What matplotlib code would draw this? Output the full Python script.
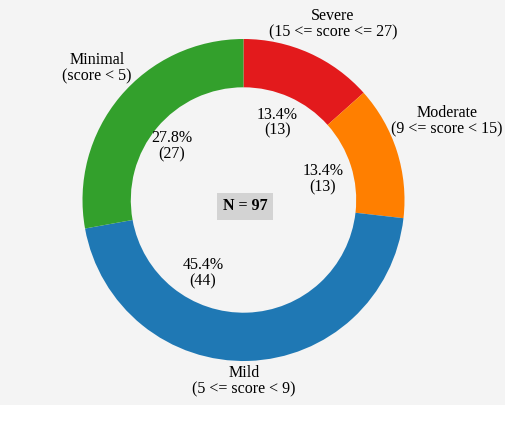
import matplotlib
matplotlib.use("Agg")
import matplotlib.pyplot as plt

# ---- data ----
categories = ["Severe", "Moderate", "Mild", "Minimal"]
ranges = ["(15 <= score <= 27)", "(9 <= score < 15)", "(5 <= score < 9)", "(score < 5)"]
counts = [13, 13, 44, 27]

# ---- style ----
colors = ["#e31a1c", "#ff7f00", "#1f78b4", "#33a02c"]
outer_label_pos = [(0.556, 1.093), (1.264, 0.491), (0.003, -1.124), (-0.910, 0.820)]
inner_label_pos = [(0.211, 0.481), (0.494, 0.130), (-0.252, -0.453), (-0.444, 0.335)]
bg = "#f4f4f4"

plt.rcParams["font.family"] = ["Liberation Serif", "DejaVu Serif"]

W, H = 518, 438
fig = plt.figure(figsize=(W / 100, H / 100), dpi=100, facecolor="white")

# gray panel area in pixels
px0, px1, py_top, py_bot = 0, 505, 0, 405
ax = fig.add_axes([px0 / W, 1 - py_bot / H, (px1 - px0) / W, (py_bot - py_top) / H])

cx, cy, R = 243.5, 200.0, 161.0

wedges, _ = ax.pie(counts, colors=colors, startangle=90, counterclock=False,
                   radius=1.0, wedgeprops=dict(width=0.3, edgecolor="none"))
ax.set_frame_on(True)
ax.set_facecolor(bg)
for s in ax.spines.values():
    s.set_visible(False)
ax.set_xticks([])
ax.set_yticks([])
ax.set_aspect("auto")
ax.set_xlim(-(cx - px0) / R, (px1 - cx) / R)
ax.set_ylim(-(py_bot - cy) / R, (cy - py_top) / R)

total = sum(counts)
fs = 11.5
for i, (cat, rng, n) in enumerate(zip(categories, ranges, counts)):
    ox, oy = outer_label_pos[i]
    ax.text(ox, oy, f"{cat}\n{rng}", ha="center", va="center",
            multialignment="center", fontsize=fs, linespacing=1.0)
    ix, iy = inner_label_pos[i]
    ax.text(ix, iy, f"{100 * n / total:.1f}%\n({n})", ha="center", va="center",
            multialignment="center", fontsize=fs, linespacing=1.0)

ax.text(0.01, -0.04, f"N = {total}", ha="center", va="center", fontsize=fs,
        fontweight="bold",
        bbox=dict(boxstyle="square,pad=0.35", facecolor="#d3d3d3", edgecolor="none"))

fig.savefig("out.png", dpi=100, facecolor="white")
